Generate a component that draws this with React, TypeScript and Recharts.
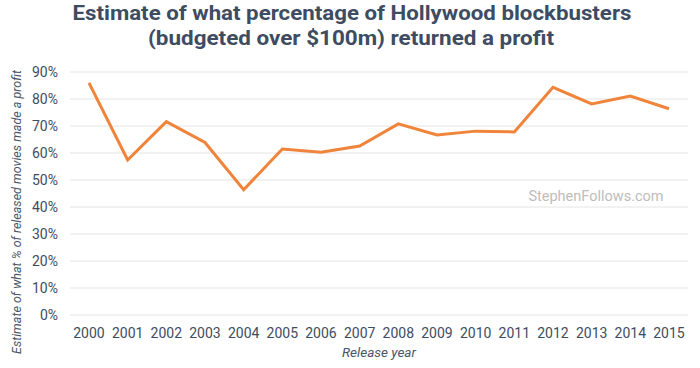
import React from 'react';
import { LineChart, Line, XAxis, YAxis, CartesianGrid, Label } from 'recharts';

const years = ['2000','2001','2002','2003','2004','2005','2006','2007','2008','2009','2010','2011','2012','2013','2014','2015'];
const profitPct = [86.0, 57.4, 71.6, 63.9, 46.4, 61.5, 60.3, 62.6, 70.8, 66.7, 68.1, 67.8, 84.3, 78.2, 81.1, 76.4];
const yTicks = [0, 10, 20, 30, 40, 50, 60, 70, 80, 90];

const data = years.map((y, i) => ({ year: y, value: profitPct[i] }));

const TEXT = '#3e4c61';
const FONT = 'Roboto, "Noto Sans", sans-serif';

export default function App() {
  return (
    <div style={{ position: 'absolute', left: 0, top: 0, width: 700, height: 368, background: '#fff', fontFamily: FONT }}>
      <LineChart width={700} height={368} data={data} margin={{ top: 72, right: 12, bottom: 0, left: 0 }}>
        <CartesianGrid vertical={false} stroke="#e4e4e4" strokeWidth={1} />
        <XAxis
          dataKey="year"
          axisLine={false}
          tickLine={false}
          tickMargin={7}
          height={53}
          padding={{ left: 19, right: 19 }}
          interval={0}
          tick={{ fill: TEXT, fontSize: 14, fontFamily: FONT }}
        >
          <Label
            content={(props: any) => {
              const vb = props.viewBox || {};
              return (
                <text x={vb.x + vb.width / 2} y={357} textAnchor="middle" fill="#4a5568" fontSize={13.5} fontStyle="italic" fontFamily={FONT}>
                  Release year
                </text>
              );
            }}
          />
        </XAxis>
        <YAxis
          domain={[0, 90]}
          ticks={yTicks}
          interval={0}
          axisLine={false}
          tickLine={false}
          tickMargin={6}
          width={70}
          tickFormatter={(v: number) => `${v}%`}
          tick={{ fill: TEXT, fontSize: 14, fontFamily: FONT }}
        >
          <Label
            content={() => (
              <text x={21} y={212} transform="rotate(-90, 21, 212)" textAnchor="middle" fill="#4a5568" fontSize={12.5} fontStyle="italic" fontFamily={FONT} textLength={284} lengthAdjust="spacingAndGlyphs">
                Estimate of what % of released movies made a profit
              </text>
            )}
          />
        </YAxis>
        <Line type="linear" dataKey="value" stroke="#f0843a" strokeWidth={3} dot={false} activeDot={false} isAnimationActive={false} />
      </LineChart>
      <svg width={700} height={368} style={{ position: 'absolute', left: 0, top: 0, pointerEvents: 'none' }}>
        <text x={352} y={20} textAnchor="middle" fill={TEXT} fontSize={21} fontWeight="bold" fontFamily={FONT} textLength={559} lengthAdjust="spacingAndGlyphs">
          Estimate of what percentage of Hollywood blockbusters
        </text>
        <text x={351} y={45} textAnchor="middle" fill={TEXT} fontSize={21} fontWeight="bold" fontFamily={FONT} textLength={406} lengthAdjust="spacingAndGlyphs">
          (budgeted over $100m) returned a profit
        </text>
        <text x={596} y={201} textAnchor="middle" fill="#bdbdbd" fontSize={14.5} fontFamily={FONT}>
          StephenFollows.com
        </text>
      </svg>
    </div>
  );
}
